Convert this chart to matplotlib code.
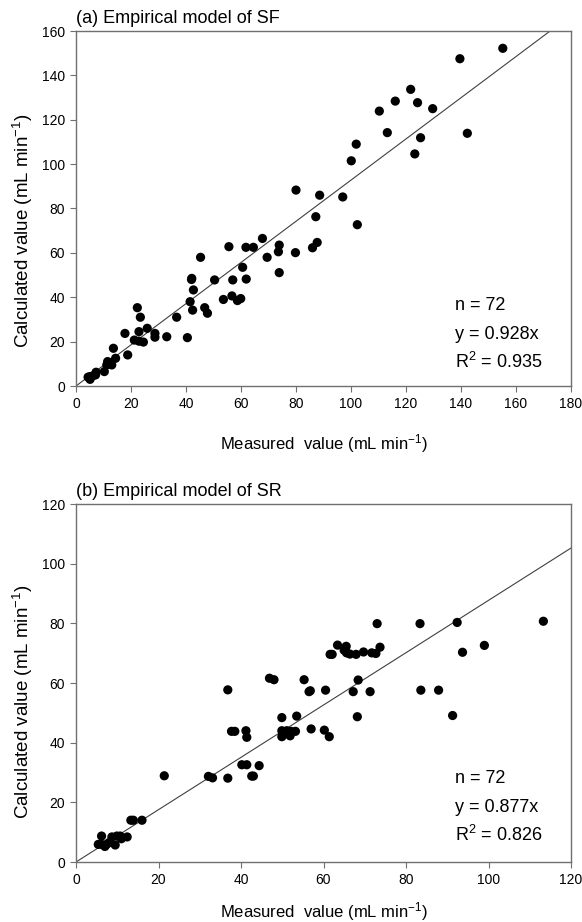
import numpy as np
import matplotlib
matplotlib.use('Agg')
import matplotlib.pyplot as plt

plt.rcParams['font.family'] = ['Liberation Sans', 'DejaVu Sans']
plt.rcParams['mathtext.fontset'] = 'custom'
plt.rcParams['mathtext.rm'] = 'Liberation Sans'
plt.rcParams['mathtext.it'] = 'Liberation Sans'

# (a) SF: measured vs calculated
sf_measured = [4.4, 5.1, 5.1, 7.1, 7.3, 10.3, 11.2, 11.5, 13.0, 14.4, 13.6, 18.8,
               17.8, 21.2, 22.9, 22.9, 22.3, 23.4, 24.5, 25.9, 28.7, 28.7, 33.0, 36.6,
               40.5, 41.5, 42.4, 42.7, 42.1, 46.8, 47.8, 45.3, 50.4, 53.6, 56.7, 58.7,
               59.9, 57.0, 61.9, 60.6, 55.6, 61.8, 64.5, 67.8, 69.5, 73.9, 73.6, 73.9,
               79.8, 80.0, 86.0, 87.7, 87.2, 88.6, 97.0, 102.3, 100.1, 101.9, 110.3, 113.2,
               116.1, 121.7, 124.2, 125.3, 123.2, 129.7, 139.6, 142.3, 155.2, 42.0, 12.0, 6.0]
sf_calculated = [4.0, 3.0, 4.2, 5.0, 6.2, 6.5, 9.5, 11.0, 9.5, 12.5, 17.0, 14.0,
                 23.7, 20.7, 20.2, 24.5, 35.3, 31.0, 19.8, 26.0, 23.7, 22.0, 22.2, 31.0,
                 21.8, 38.0, 34.2, 43.3, 48.5, 35.3, 32.8, 58.0, 47.8, 39.0, 40.6, 38.5,
                 39.4, 47.8, 48.2, 53.5, 62.8, 62.5, 62.5, 66.5, 58.0, 63.5, 60.5, 51.1,
                 60.1, 88.3, 62.3, 64.7, 76.3, 86.0, 85.2, 72.7, 101.5, 109.0, 123.9, 114.2,
                 128.4, 133.7, 127.7, 111.9, 104.6, 125.0, 147.5, 113.9, 152.2, 48.0, 10.5, 4.5]

# (b) SR: measured vs calculated
sr_measured = [5.4, 6.2, 7.4, 9.5, 6.2, 8.7, 9.9, 10.7, 12.4, 8.0, 13.3, 13.9,
               16.0, 21.4, 32.1, 33.1, 36.8, 42.6, 43.0, 40.2, 41.4, 44.4, 37.7, 38.5,
               41.2, 41.4, 36.8, 49.9, 53.5, 49.9, 49.9, 51.1, 51.9, 52.1, 53.2, 57.0,
               60.2, 61.4, 46.9, 48.0, 55.3, 56.5, 56.8, 60.5, 61.6, 62.1, 63.4, 65.5,
               65.6, 66.4, 67.9, 69.7, 71.7, 72.7, 73.7, 73.0, 67.2, 68.4, 71.3, 68.2,
               83.4, 83.6, 87.9, 91.3, 92.4, 93.7, 99.0, 113.3, 7.0, 11.0, 50.5, 65.0]
sr_calculated = [5.9, 5.9, 5.9, 5.7, 8.7, 8.4, 8.7, 8.7, 8.4, 6.5, 14.0, 14.0,
                 14.0, 28.9, 28.7, 28.2, 28.1, 28.8, 28.8, 32.6, 32.6, 32.3, 43.8, 43.8,
                 44.0, 41.8, 57.7, 48.4, 48.9, 44.0, 42.0, 44.0, 42.3, 43.8, 43.8, 44.6,
                 44.2, 42.0, 61.6, 61.1, 61.1, 57.1, 57.4, 57.6, 69.6, 69.6, 72.7, 72.3,
                 70.1, 69.7, 69.6, 70.4, 70.1, 69.9, 72.0, 79.9, 57.1, 61.0, 57.1, 48.7,
                 79.9, 57.6, 57.6, 49.1, 80.3, 70.3, 72.6, 80.7, 5.2, 7.8, 43.0, 71.0]

sf_slope = 0.928
sr_slope = 0.877
sf_stats = ['n = 72', 'y = 0.928x', 'R$^2$ = 0.935']
sr_stats = ['n = 72', 'y = 0.877x', 'R$^2$ = 0.826']

W, H = 582, 922
fig = plt.figure(figsize=(W / 100, H / 100), dpi=100)

spine_col = '#707070'


def make_panel(rect, x, y, slope, xmax, ymax, title, stats, stat_y, xpad, ylab_y):
    ax = fig.add_axes(rect)
    ax.scatter(x, y, s=44, color='black', edgecolors='none', zorder=3)
    xs = np.array([0, xmax])
    ax.plot(xs, slope * xs, color='#404040', lw=0.8, zorder=2)
    ax.set_xlim(0, xmax)
    ax.set_ylim(0, ymax)
    ax.set_xticks(np.arange(0, xmax + 1, 20))
    ax.set_yticks(np.arange(0, ymax + 1, 20))
    for sp in ax.spines.values():
        sp.set_color(spine_col)
        sp.set_linewidth(1.0)
    ax.tick_params(direction='out', length=4, width=0.8, color=spine_col,
                   labelsize=10, pad=4, top=False, right=False)
    ax.set_xlabel('Measured  value (mL min$^{-1}$)', fontsize=12, labelpad=xpad)
    ax.set_ylabel('Calculated value (mL min$^{-1}$)', fontsize=13.5, va='center')
    ax.yaxis.set_label_coords(-0.107, ylab_y)
    ax.set_title(title, loc='left', fontsize=13, pad=6)
    for i, s in enumerate(stats):
        ax.text(0.765, stat_y - i * 0.081, s, transform=ax.transAxes,
                fontsize=13, ha='left', va='baseline')
    return ax


make_panel([76 / W, 1 - 386 / H, 495 / W, 355 / H], sf_measured, sf_calculated,
           sf_slope, 180, 160, '(a) Empirical model of SF', sf_stats, 0.214, 15, 0.437)
make_panel([76 / W, 1 - 862 / H, 495 / W, 358 / H], sr_measured, sr_calculated,
           sr_slope, 120, 120, '(b) Empirical model of SR', sr_stats, 0.221, 9, 0.447)

fig.savefig('out.png', dpi=100)
